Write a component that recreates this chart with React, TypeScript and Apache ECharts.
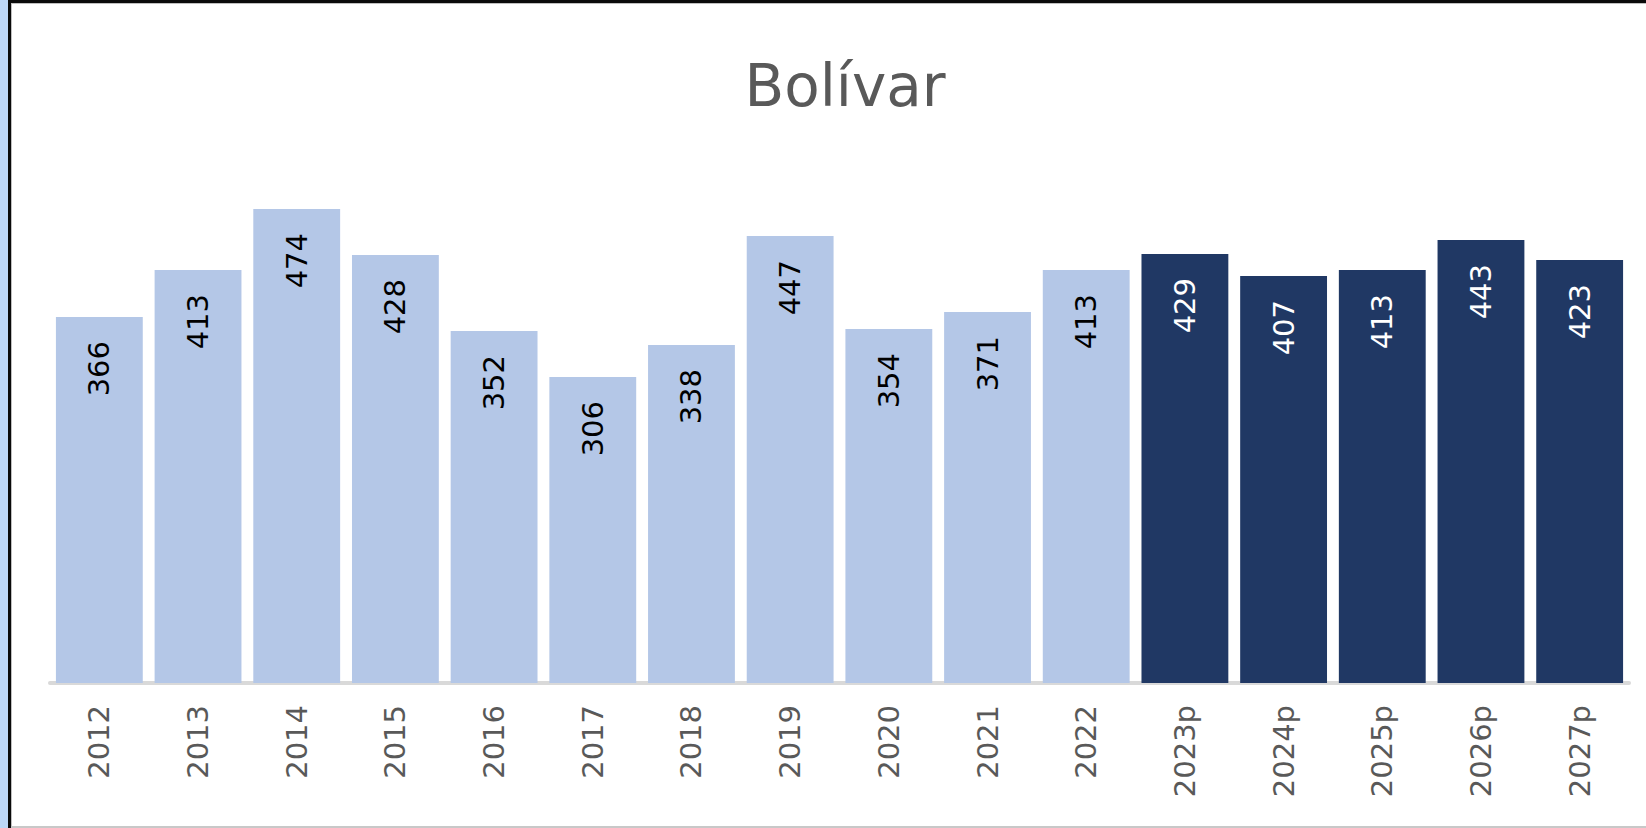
import React, { useEffect, useRef } from "react";
import * as echarts from "echarts";

const categories = [
  "2012", "2013", "2014", "2015", "2016", "2017", "2018", "2019",
  "2020", "2021", "2022", "2023p", "2024p", "2025p", "2026p", "2027p",
];
const values = [366, 413, 474, 428, 352, 306, 338, 447, 354, 371, 413, 429, 407, 413, 443, 423];
const titleText = "Bolívar";

const LIGHT = "#B4C7E7";
const DARK = "#203864";
const FONT = "DejaVu Sans";

export default function App() {
  const ref = useRef<HTMLDivElement>(null);

  useEffect(() => {
    if (!ref.current) return;
    const chart = echarts.init(ref.current, undefined, { renderer: "svg" });
    const data = values.map((v, i) => {
      const proj = categories[i].endsWith("p");
      return {
        value: v,
        itemStyle: { color: proj ? DARK : LIGHT },
        label: { color: proj ? "#FFFFFF" : "#000000" },
      };
    });
    chart.setOption({
      animation: false,
      title: {
        text: titleText,
        left: 840,
        textAlign: "center",
        top: 52,
        textStyle: {
          fontFamily: FONT,
          fontSize: 58,
          fontWeight: "normal",
          color: "#595959",
        },
      },
      grid: { left: 50, right: 17, top: 183, bottom: 145, containLabel: false },
      xAxis: {
        type: "category",
        data: categories,
        offset: 2,
        axisLine: { show: true, lineStyle: { color: "#D9D9D9", width: 4 } },
        axisTick: { show: false },
        axisLabel: {
          rotate: 90,
          margin: 20,
          fontFamily: FONT,
          fontSize: 29,
          color: "#595959",
          interval: 0,
        },
      },
      yAxis: {
        type: "value",
        min: 0,
        max: 500,
        show: false,
        splitLine: { show: false },
      },
      series: [
        {
          type: "bar",
          data,
          barCategoryGap: "12%",
          label: {
            show: true,
            position: "insideTop",
            rotate: 90,
            align: "right",
            verticalAlign: "middle",
            distance: 24,
            fontFamily: FONT,
            fontSize: 29,
          },
        },
      ],
    });
    return () => chart.dispose();
  }, []);

  return (
    <div style={{ position: "absolute", left: 0, top: 0, width: 1646, height: 828, background: "#FFFFFF", overflow: "hidden" }}>
      <div style={{ position: "absolute", left: 0, top: 0, width: 8, height: 828, background: "#BDD7F7" }} />
      <div style={{ position: "absolute", left: 8, top: 0, width: 3, height: 828, background: "#0A0A0A" }} />
      <div style={{ position: "absolute", left: 8, top: 0, width: 1638, height: 3, background: "#0A0A0A" }} />
      <div style={{ position: "absolute", left: 11, top: 3, width: 1635, height: 1, background: "#BFBFBF" }} />
      <div style={{ position: "absolute", left: 11, top: 3, width: 1, height: 825, background: "#BFBFBF" }} />
      <div style={{ position: "absolute", left: 11, top: 826, width: 1635, height: 2, background: "#C8C8C8" }} />
      <div ref={ref} style={{ position: "absolute", left: 0, top: 0, width: 1646, height: 828 }} />
    </div>
  );
}
